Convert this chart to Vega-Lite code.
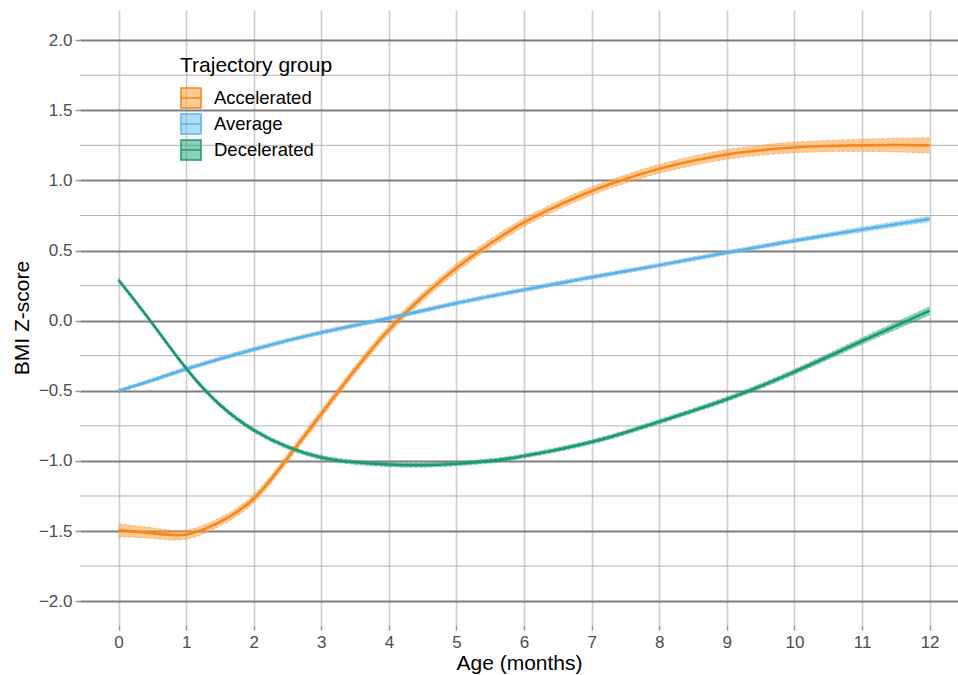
{
  "$schema": "https://vega.github.io/schema/vega-lite/v6.json",
  "width": 878,
  "height": 615,
  "autosize": {"type": "none"},
  "padding": {"left": 80, "top": 10, "right": 0, "bottom": 50},
  "background": "white",
  "config": {
    "font": "Liberation Sans",
    "view": {"stroke": null},
    "axis": {
      "domain": false,
      "labelFontSize": 17,
      "labelColor": "#4d4d4d",
      "titleFontSize": 21,
      "titleFontWeight": "normal",
      "titleColor": "#000000",
      "tickColor": "#999999",
      "tickSize": 5,
      "tickWidth": 1.5
    },
    "legend": {
      "titleFontSize": 21,
      "titleFontWeight": "normal",
      "titleColor": "#000000",
      "labelFontSize": 18.5,
      "labelColor": "#000000"
    }
  },
  "datasets": {
    "minor": [
      {"v": -1.75}, {"v": -1.25}, {"v": -0.75}, {"v": -0.25},
      {"v": 0.25}, {"v": 0.75}, {"v": 1.25}, {"v": 1.75}
    ],
    "curves": [
      {"group": "Accelerated", "age": 0, "z": -1.495, "lo": -1.54, "hi": -1.45},
      {"group": "Accelerated", "age": 0.5, "z": -1.515, "lo": -1.553, "hi": -1.477},
      {"group": "Accelerated", "age": 1, "z": -1.525, "lo": -1.558, "hi": -1.492},
      {"group": "Accelerated", "age": 1.5, "z": -1.435, "lo": -1.465, "hi": -1.405},
      {"group": "Accelerated", "age": 2, "z": -1.27, "lo": -1.3, "hi": -1.24},
      {"group": "Accelerated", "age": 2.5, "z": -0.98, "lo": -1.01, "hi": -0.95},
      {"group": "Accelerated", "age": 3, "z": -0.665, "lo": -0.695, "hi": -0.635},
      {"group": "Accelerated", "age": 3.5, "z": -0.35, "lo": -0.38, "hi": -0.32},
      {"group": "Accelerated", "age": 4, "z": -0.065, "lo": -0.095, "hi": -0.035},
      {"group": "Accelerated", "age": 4.5, "z": 0.17, "lo": 0.14, "hi": 0.2},
      {"group": "Accelerated", "age": 5, "z": 0.375, "lo": 0.345, "hi": 0.405},
      {"group": "Accelerated", "age": 5.5, "z": 0.55, "lo": 0.52, "hi": 0.58},
      {"group": "Accelerated", "age": 6, "z": 0.7, "lo": 0.67, "hi": 0.73},
      {"group": "Accelerated", "age": 6.5, "z": 0.82, "lo": 0.79, "hi": 0.85},
      {"group": "Accelerated", "age": 7, "z": 0.925, "lo": 0.895, "hi": 0.955},
      {"group": "Accelerated", "age": 7.5, "z": 1.01, "lo": 0.98, "hi": 1.04},
      {"group": "Accelerated", "age": 8, "z": 1.083, "lo": 1.051, "hi": 1.115},
      {"group": "Accelerated", "age": 8.5, "z": 1.14, "lo": 1.107, "hi": 1.173},
      {"group": "Accelerated", "age": 9, "z": 1.185, "lo": 1.15, "hi": 1.22},
      {"group": "Accelerated", "age": 9.5, "z": 1.215, "lo": 1.179, "hi": 1.251},
      {"group": "Accelerated", "age": 10, "z": 1.235, "lo": 1.197, "hi": 1.273},
      {"group": "Accelerated", "age": 10.5, "z": 1.245, "lo": 1.205, "hi": 1.285},
      {"group": "Accelerated", "age": 11, "z": 1.25, "lo": 1.206, "hi": 1.294},
      {"group": "Accelerated", "age": 11.5, "z": 1.252, "lo": 1.203, "hi": 1.301},
      {"group": "Accelerated", "age": 12, "z": 1.25, "lo": 1.196, "hi": 1.304},
      {"group": "Average", "age": 0, "z": -0.5, "lo": -0.512, "hi": -0.488},
      {"group": "Average", "age": 0.5, "z": -0.425, "lo": -0.439, "hi": -0.411},
      {"group": "Average", "age": 1, "z": -0.345, "lo": -0.36, "hi": -0.33},
      {"group": "Average", "age": 2, "z": -0.205, "lo": -0.22, "hi": -0.19},
      {"group": "Average", "age": 3, "z": -0.085, "lo": -0.1, "hi": -0.07},
      {"group": "Average", "age": 4, "z": 0.018, "lo": 0.003, "hi": 0.033},
      {"group": "Average", "age": 5, "z": 0.125, "lo": 0.11, "hi": 0.14},
      {"group": "Average", "age": 6, "z": 0.22, "lo": 0.205, "hi": 0.235},
      {"group": "Average", "age": 7, "z": 0.31, "lo": 0.295, "hi": 0.325},
      {"group": "Average", "age": 8, "z": 0.395, "lo": 0.38, "hi": 0.41},
      {"group": "Average", "age": 9, "z": 0.485, "lo": 0.47, "hi": 0.5},
      {"group": "Average", "age": 10, "z": 0.57, "lo": 0.555, "hi": 0.585},
      {"group": "Average", "age": 11, "z": 0.65, "lo": 0.633, "hi": 0.667},
      {"group": "Average", "age": 12, "z": 0.725, "lo": 0.705, "hi": 0.745},
      {"group": "Decelerated", "age": 0, "z": 0.29, "lo": 0.275, "hi": 0.305},
      {"group": "Decelerated", "age": 0.5, "z": -0.02, "lo": -0.035, "hi": -0.005},
      {"group": "Decelerated", "age": 1, "z": -0.34, "lo": -0.355, "hi": -0.325},
      {"group": "Decelerated", "age": 1.5, "z": -0.6, "lo": -0.615, "hi": -0.585},
      {"group": "Decelerated", "age": 2, "z": -0.78, "lo": -0.795, "hi": -0.765},
      {"group": "Decelerated", "age": 2.5, "z": -0.9, "lo": -0.915, "hi": -0.885},
      {"group": "Decelerated", "age": 3, "z": -0.975, "lo": -0.99, "hi": -0.96},
      {"group": "Decelerated", "age": 3.5, "z": -1.01, "lo": -1.025, "hi": -0.995},
      {"group": "Decelerated", "age": 4, "z": -1.026, "lo": -1.041, "hi": -1.011},
      {"group": "Decelerated", "age": 4.5, "z": -1.03, "lo": -1.045, "hi": -1.015},
      {"group": "Decelerated", "age": 5, "z": -1.02, "lo": -1.035, "hi": -1.005},
      {"group": "Decelerated", "age": 5.5, "z": -1.0, "lo": -1.015, "hi": -0.985},
      {"group": "Decelerated", "age": 6, "z": -0.965, "lo": -0.98, "hi": -0.95},
      {"group": "Decelerated", "age": 7, "z": -0.865, "lo": -0.88, "hi": -0.85},
      {"group": "Decelerated", "age": 8, "z": -0.72, "lo": -0.736, "hi": -0.704},
      {"group": "Decelerated", "age": 9, "z": -0.56, "lo": -0.577, "hi": -0.543},
      {"group": "Decelerated", "age": 10, "z": -0.365, "lo": -0.384, "hi": -0.346},
      {"group": "Decelerated", "age": 11, "z": -0.145, "lo": -0.168, "hi": -0.122},
      {"group": "Decelerated", "age": 12, "z": 0.07, "lo": 0.04, "hi": 0.1}
    ]
  },
  "layer": [
    {
      "data": {"name": "minor"},
      "mark": {"type": "rule", "color": "#b3b3b3", "strokeWidth": 1},
      "encoding": {
        "y": {"field": "v", "type": "quantitative", "title": "BMI Z-score",
              "scale": {"domain": [-2.17, 2.215], "nice": false, "zero": false}}
      }
    },
    {
      "data": {"name": "curves"},
      "mark": {"type": "area", "interpolate": "natural", "fillOpacity": 0.55},
      "encoding": {
        "x": {"field": "age", "type": "quantitative", "title": "Age (months)",
              "scale": {"domain": [-0.57, 12.42], "nice": false, "zero": false},
              "axis": {"values": [0,1,2,3,4,5,6,7,8,9,10,11,12], "format": "d", "grid": true, "gridColor": "#cccccc", "gridWidth": 1.6, "labelPadding": 4, "titlePadding": 2}},
        "y": {"field": "lo", "type": "quantitative", "title": "BMI Z-score",
              "scale": {"domain": [-2.17, 2.215], "nice": false, "zero": false},
              "axis": {"values": [-2,-1.5,-1,-0.5,0,0.5,1,1.5,2], "format": ".1f", "grid": true, "gridColor": "#7f7f7f", "gridWidth": 1.8, "labelPadding": 3, "titlePadding": 6}},
        "y2": {"field": "hi"},
        "fill": {"field": "group", "type": "nominal",
                 "scale": {"domain": ["Accelerated", "Average", "Decelerated"], "range": ["#ff9e3d", "#6cbdee", "#2da67e"]},
                 "legend": {"title": "Trajectory group", "orient": "none", "legendX": 100, "legendY": 45, "padding": 0,
                            "symbolType": "M-1,-1H1V1H-1Z M-1,0H1", "symbolSize": 400, "symbolStrokeWidth": 1.5,
                            "rowPadding": 0, "labelOffset": 12, "titlePadding": 11,
                            "encode": {"symbols": {"update": {"fillOpacity": {"value": 0.55}, "strokeOpacity": {"value": 1}}}}}}
      }
    },
    {
      "data": {"name": "curves"},
      "mark": {"type": "line", "interpolate": "natural", "strokeWidth": 1, "strokeDash": [3, 2], "strokeOpacity": 0.45},
      "encoding": {
        "x": {"field": "age", "type": "quantitative", "title": "Age (months)"},
        "y": {"field": "lo", "type": "quantitative", "title": "BMI Z-score"},
        "stroke": {"field": "group", "type": "nominal",
                   "scale": {"domain": ["Accelerated", "Average", "Decelerated"], "range": ["#f5871f", "#5cb4e6", "#1b9a70"]}},
        "detail": {"field": "group"}
      }
    },
    {
      "data": {"name": "curves"},
      "mark": {"type": "line", "interpolate": "natural", "strokeWidth": 1, "strokeDash": [3, 2], "strokeOpacity": 0.45},
      "encoding": {
        "x": {"field": "age", "type": "quantitative", "title": "Age (months)"},
        "y": {"field": "hi", "type": "quantitative", "title": "BMI Z-score"},
        "stroke": {"field": "group", "type": "nominal"},
        "detail": {"field": "group"}
      }
    },
    {
      "data": {"name": "curves"},
      "mark": {"type": "line", "interpolate": "natural", "strokeWidth": 2.6},
      "encoding": {
        "x": {"field": "age", "type": "quantitative", "title": "Age (months)"},
        "y": {"field": "z", "type": "quantitative", "title": "BMI Z-score"},
        "stroke": {"field": "group", "type": "nominal"}
      }
    }
  ]
}
